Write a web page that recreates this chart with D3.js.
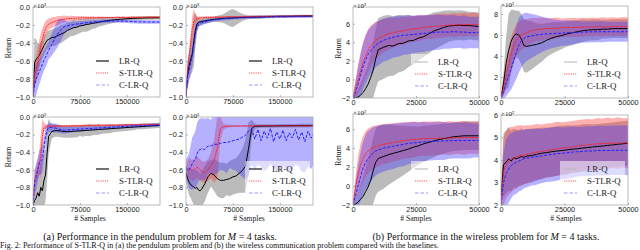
<html>
<head>
<meta charset="utf-8">
<title>S-TLR-Q returns</title>
<style>
  body { margin: 0; padding: 0; background: #fff; }
  svg { display: block; font-family: "Liberation Serif", "DejaVu Serif", serif; }
  .tick text { font-size: 7.3px; fill: #222; }
  .tick line { stroke: #888; stroke-width: 0.6; }
  .frame { fill: none; stroke: #aaa; stroke-width: 0.8; }
  .legend text { font-size: 8.8px; fill: #222; }
  .lbl { font-size: 7.6px; fill: #222; }
  .cap { font-size: 10px; fill: #111; }
  .note { font-size: 8px; fill: #111; }
</style>
</head>
<body>
<svg width="640" height="250"></svg>
<script src="https://d3js.org/d3.v7.min.js"></script>
<script>
// sample grids
var pendX = [
  0, 2500, 5000, 7500, 10000, 12500, 15000, 17500, 20000, 22500,
  25000, 30000, 35000, 40000, 45000, 50000, 55000, 60000, 65000, 70000,
  75000, 80000, 85000, 90000, 95000, 100000, 105000, 110000, 115000, 120000,
  125000, 130000, 135000, 140000, 145000, 150000, 155000, 160000, 165000, 170000,
  175000, 180000, 185000, 190000, 195000, 200000, 203000];
var wireX = [
  0, 1000, 2000, 3000, 4000, 5000, 6000, 7000, 8000, 9000,
  10000, 12000, 14000, 16000, 18000, 20000, 22000, 24000, 26000, 28000,
  30000, 32000, 34000, 36000, 38000, 40000, 42000, 44000, 46000, 48000,
  50000];

var pendXTicks = [0, 75000, 150000];
var wireXTicks = [0, 25000, 50000];
var pendYTicks = [0, -0.2, -0.4, -0.6, -0.8, -1.0];

var methods = ["LR-Q", "S-TLR-Q", "C-LR-Q"];

// pendulum, panel 1 (x10^3)
var pend1LR = [
  -1.00, -0.62, -0.58, -0.56, -0.54, -0.50, -0.47, -0.43, -0.40, -0.37,
  -0.36, -0.34, -0.335, -0.315, -0.30, -0.285, -0.26, -0.245, -0.23, -0.225,
  -0.21, -0.205, -0.195, -0.19, -0.182, -0.175, -0.168, -0.162, -0.156, -0.151,
  -0.147, -0.142, -0.139, -0.136, -0.133, -0.13, -0.128, -0.126, -0.125, -0.124,
  -0.123, -0.122, -0.121, -0.121, -0.12, -0.12, -0.12];
var pend1LRsd = [
  0.00, 0.28, 0.22, 0.16, 0.13, 0.11, 0.10, 0.11, 0.10, 0.10,
  0.10, 0.09, 0.10, 0.09, 0.10, 0.09, 0.09, 0.08, 0.09, 0.08,
  0.08, 0.07, 0.08, 0.07, 0.06, 0.06, 0.05, 0.05, 0.045, 0.04,
  0.035, 0.03, 0.03, 0.025, 0.025, 0.02, 0.02, 0.02, 0.02, 0.02,
  0.02, 0.02, 0.02, 0.02, 0.02, 0.02, 0.02];
var pend1ST = [
  -1.00, -0.74, -0.70, -0.62, -0.52, -0.43, -0.36, -0.29, -0.24, -0.21,
  -0.19, -0.175, -0.16, -0.15, -0.14, -0.135, -0.13, -0.128, -0.125, -0.124,
  -0.122, -0.121, -0.12, -0.12, -0.119, -0.119, -0.118, -0.118, -0.118, -0.117,
  -0.117, -0.117, -0.116, -0.116, -0.116, -0.116, -0.115, -0.115, -0.115, -0.115,
  -0.115, -0.114, -0.114, -0.114, -0.114, -0.114, -0.114];
var pend1STsd = [
  0.00, 0.12, 0.14, 0.15, 0.15, 0.14, 0.12, 0.10, 0.08, 0.07,
  0.06, 0.06, 0.05, 0.05, 0.04, 0.04, 0.03, 0.03, 0.025, 0.02,
  0.02, 0.02, 0.015, 0.015, 0.015, 0.012, 0.012, 0.012, 0.01, 0.01,
  0.01, 0.01, 0.01, 0.01, 0.01, 0.01, 0.01, 0.01, 0.01, 0.01,
  0.01, 0.01, 0.01, 0.01, 0.01, 0.01, 0.01];
var pend1CL = [
  -1.00, -0.86, -0.80, -0.76, -0.72, -0.68, -0.63, -0.59, -0.56, -0.52,
  -0.48, -0.42, -0.35, -0.29, -0.25, -0.22, -0.21, -0.20, -0.195, -0.19,
  -0.185, -0.18, -0.175, -0.17, -0.168, -0.165, -0.163, -0.16, -0.158, -0.157,
  -0.156, -0.155, -0.155, -0.156, -0.157, -0.158, -0.16, -0.162, -0.163, -0.165,
  -0.165, -0.166, -0.166, -0.167, -0.167, -0.167, -0.167];
var pend1CLsd = [
  0.00, 0.20, 0.18, 0.15, 0.14, 0.13, 0.12, 0.12, 0.11, 0.11,
  0.10, 0.12, 0.14, 0.15, 0.12, 0.08, 0.05, 0.04, 0.035, 0.03,
  0.03, 0.025, 0.025, 0.02, 0.02, 0.02, 0.02, 0.02, 0.02, 0.02,
  0.02, 0.02, 0.02, 0.02, 0.02, 0.02, 0.02, 0.02, 0.02, 0.02,
  0.02, 0.02, 0.02, 0.02, 0.02, 0.02, 0.02];

// pendulum, panel 2
var pend2LR = [
  -1.00, -0.74, -0.65, -0.58, -0.52, -0.38, -0.26, -0.19, -0.17, -0.165,
  -0.16, -0.155, -0.148, -0.142, -0.138, -0.133, -0.13, -0.127, -0.125, -0.123,
  -0.121, -0.12, -0.118, -0.116, -0.115, -0.114, -0.113, -0.112, -0.111, -0.11,
  -0.109, -0.108, -0.107, -0.106, -0.105, -0.105, -0.104, -0.104, -0.103, -0.103,
  -0.102, -0.102, -0.101, -0.101, -0.10, -0.10, -0.10];
var pend2LRsd = [
  0.00, 0.15, 0.15, 0.18, 0.20, 0.28, 0.20, 0.08, 0.05, 0.04,
  0.035, 0.03, 0.03, 0.03, 0.03, 0.035, 0.04, 0.05, 0.07, 0.09,
  0.10, 0.08, 0.06, 0.04, 0.03, 0.02, 0.02, 0.02, 0.02, 0.02,
  0.015, 0.015, 0.015, 0.015, 0.015, 0.015, 0.015, 0.015, 0.015, 0.015,
  0.015, 0.015, 0.015, 0.015, 0.015, 0.015, 0.015];
var pend2ST = [
  -1.00, -0.70, -0.55, -0.40, -0.25, -0.16, -0.14, -0.13, -0.125, -0.122,
  -0.12, -0.118, -0.116, -0.115, -0.114, -0.113, -0.112, -0.112, -0.111, -0.11,
  -0.11, -0.11, -0.109, -0.109, -0.108, -0.108, -0.107, -0.107, -0.106, -0.106,
  -0.105, -0.105, -0.104, -0.104, -0.104, -0.103, -0.103, -0.103, -0.102, -0.102,
  -0.102, -0.101, -0.101, -0.10, -0.10, -0.10, -0.10];
var pend2STsd = [
  0.00, 0.06, 0.08, 0.10, 0.15, 0.14, 0.05, 0.03, 0.02, 0.02,
  0.015, 0.015, 0.012, 0.012, 0.01, 0.01, 0.01, 0.01, 0.01, 0.01,
  0.01, 0.01, 0.01, 0.01, 0.01, 0.01, 0.01, 0.01, 0.01, 0.01,
  0.01, 0.01, 0.01, 0.01, 0.01, 0.01, 0.01, 0.01, 0.01, 0.01,
  0.01, 0.01, 0.01, 0.01, 0.01, 0.01, 0.01];
var pend2CL = [
  -1.00, -0.78, -0.70, -0.62, -0.55, -0.42, -0.30, -0.22, -0.19, -0.18,
  -0.175, -0.165, -0.155, -0.148, -0.142, -0.137, -0.133, -0.13, -0.127, -0.125,
  -0.123, -0.121, -0.12, -0.118, -0.117, -0.116, -0.115, -0.114, -0.113, -0.112,
  -0.111, -0.11, -0.11, -0.109, -0.108, -0.108, -0.107, -0.107, -0.106, -0.106,
  -0.105, -0.105, -0.105, -0.104, -0.104, -0.104, -0.104];
var pend2CLsd = [
  0.00, 0.12, 0.12, 0.12, 0.12, 0.12, 0.10, 0.06, 0.04, 0.03,
  0.03, 0.025, 0.025, 0.02, 0.02, 0.02, 0.02, 0.02, 0.02, 0.02,
  0.015, 0.015, 0.015, 0.015, 0.015, 0.015, 0.015, 0.015, 0.015, 0.015,
  0.015, 0.015, 0.015, 0.015, 0.015, 0.015, 0.015, 0.015, 0.015, 0.015,
  0.015, 0.015, 0.015, 0.015, 0.015, 0.015, 0.015];

// pendulum, panel 3
var pend3LR = [
  -1.00, -0.95, -0.92, -0.86, -0.90, -0.80, -0.84, -0.72, -0.66, -0.42,
  -0.22, -0.165, -0.155, -0.155, -0.16, -0.165, -0.167, -0.165, -0.162, -0.16,
  -0.157, -0.155, -0.152, -0.15, -0.147, -0.145, -0.142, -0.14, -0.137, -0.135,
  -0.132, -0.13, -0.127, -0.125, -0.122, -0.12, -0.117, -0.115, -0.112, -0.11,
  -0.108, -0.105, -0.103, -0.10, -0.098, -0.096, -0.095];
var pend3LRsd = [
  0.00, 0.15, 0.20, 0.25, 0.30, 0.30, 0.35, 0.30, 0.30, 0.30,
  0.20, 0.08, 0.07, 0.07, 0.07, 0.07, 0.07, 0.07, 0.07, 0.07,
  0.06, 0.07, 0.06, 0.07, 0.06, 0.06, 0.06, 0.05, 0.05, 0.05,
  0.05, 0.04, 0.04, 0.04, 0.04, 0.04, 0.035, 0.035, 0.03, 0.03,
  0.03, 0.03, 0.03, 0.03, 0.03, 0.03, 0.03];
var pend3ST = [
  -1.00, -0.72, -0.66, -0.60, -0.53, -0.45, -0.22, -0.12, -0.11, -0.108,
  -0.106, -0.105, -0.104, -0.104, -0.103, -0.103, -0.102, -0.102, -0.101, -0.10,
  -0.10, -0.099, -0.098, -0.097, -0.096, -0.096, -0.095, -0.094, -0.094, -0.093,
  -0.092, -0.092, -0.091, -0.09, -0.09, -0.089, -0.089, -0.088, -0.088, -0.087,
  -0.087, -0.086, -0.086, -0.085, -0.085, -0.085, -0.085];
var pend3STsd = [
  0.00, 0.10, 0.10, 0.10, 0.12, 0.25, 0.20, 0.05, 0.03, 0.02,
  0.02, 0.015, 0.015, 0.012, 0.012, 0.012, 0.012, 0.012, 0.012, 0.012,
  0.012, 0.012, 0.012, 0.012, 0.012, 0.012, 0.012, 0.012, 0.012, 0.012,
  0.012, 0.012, 0.012, 0.012, 0.012, 0.012, 0.012, 0.012, 0.012, 0.012,
  0.012, 0.012, 0.012, 0.012, 0.012, 0.012, 0.012];
var pend3CL = [
  -1.00, -0.75, -0.68, -0.60, -0.52, -0.50, -0.48, -0.35, -0.22, -0.15,
  -0.12, -0.12, -0.125, -0.135, -0.145, -0.15, -0.148, -0.145, -0.142, -0.14,
  -0.138, -0.135, -0.132, -0.13, -0.13, -0.127, -0.125, -0.122, -0.12, -0.118,
  -0.116, -0.114, -0.112, -0.11, -0.108, -0.106, -0.104, -0.102, -0.10, -0.099,
  -0.098, -0.096, -0.095, -0.094, -0.093, -0.092, -0.092];
var pend3CLsd = [
  0.00, 0.15, 0.15, 0.14, 0.14, 0.15, 0.15, 0.12, 0.10, 0.06,
  0.05, 0.05, 0.05, 0.045, 0.04, 0.04, 0.035, 0.035, 0.03, 0.03,
  0.03, 0.03, 0.025, 0.025, 0.025, 0.025, 0.02, 0.02, 0.02, 0.02,
  0.02, 0.02, 0.02, 0.02, 0.02, 0.02, 0.02, 0.02, 0.02, 0.02,
  0.02, 0.02, 0.02, 0.02, 0.02, 0.02, 0.02];

// pendulum, panel 4
var pend4LR = [
  -0.64, -0.70, -0.74, -0.77, -0.78, -0.80, -0.81, -0.80, -0.83, -0.84,
  -0.82, -0.76, -0.68, -0.64, -0.66, -0.70, -0.72, -0.72, -0.71, -0.70,
  -0.68, -0.67, -0.64, -0.61, -0.56, -0.36, -0.13, -0.105, -0.104, -0.103,
  -0.103, -0.102, -0.102, -0.101, -0.101, -0.10, -0.10, -0.10, -0.099, -0.099,
  -0.099, -0.098, -0.098, -0.098, -0.098, -0.097, -0.097];
var pend4LRsd = [
  0.10, 0.12, 0.15, 0.15, 0.18, 0.20, 0.20, 0.20, 0.20, 0.20,
  0.20, 0.20, 0.18, 0.15, 0.18, 0.20, 0.20, 0.20, 0.18, 0.20,
  0.20, 0.20, 0.22, 0.25, 0.30, 0.30, 0.10, 0.03, 0.02, 0.02,
  0.02, 0.02, 0.02, 0.02, 0.02, 0.02, 0.02, 0.02, 0.02, 0.02,
  0.02, 0.02, 0.02, 0.02, 0.02, 0.02, 0.02];
var pend4ST = [
  -0.62, -0.60, -0.58, -0.60, -0.61, -0.60, -0.59, -0.57, -0.58, -0.60,
  -0.62, -0.63, -0.60, -0.55, -0.50, -0.35, -0.13, -0.11, -0.105, -0.104,
  -0.103, -0.103, -0.102, -0.102, -0.102, -0.101, -0.101, -0.101, -0.10, -0.10,
  -0.10, -0.10, -0.10, -0.10, -0.10, -0.10, -0.10, -0.10, -0.10, -0.10,
  -0.10, -0.10, -0.10, -0.10, -0.10, -0.10, -0.10];
var pend4STsd = [
  0.05, 0.10, 0.12, 0.12, 0.12, 0.12, 0.12, 0.12, 0.12, 0.12,
  0.12, 0.12, 0.12, 0.15, 0.25, 0.35, 0.13, 0.03, 0.02, 0.015,
  0.01, 0.01, 0.01, 0.01, 0.01, 0.01, 0.01, 0.01, 0.01, 0.01,
  0.01, 0.01, 0.01, 0.01, 0.01, 0.01, 0.01, 0.01, 0.01, 0.01,
  0.01, 0.01, 0.01, 0.01, 0.01, 0.01, 0.01];
var pend4CL = [
  -0.58, -0.60, -0.61, -0.57, -0.53, -0.50, -0.48, -0.42, -0.38, -0.37,
  -0.36, -0.37, -0.33, -0.33, -0.31, -0.31, -0.30, -0.29, -0.29, -0.28,
  -0.27, -0.26, -0.25, -0.23, -0.21, -0.16, -0.14, -0.25, -0.14, -0.27,
  -0.16, -0.24, -0.13, -0.28, -0.17, -0.25, -0.15, -0.27, -0.18, -0.24,
  -0.14, -0.26, -0.17, -0.28, -0.16, -0.24, -0.20];
var pend4CLsd = [
  0.10, 0.15, 0.20, 0.25, 0.30, 0.30, 0.32, 0.35, 0.35, 0.35,
  0.35, 0.35, 0.32, 0.30, 0.35, 0.33, 0.30, 0.32, 0.35, 0.30,
  0.33, 0.35, 0.40, 0.45, 0.50, 0.50, 0.40, 0.35, 0.40, 0.30,
  0.45, 0.35, 0.40, 0.30, 0.45, 0.35, 0.40, 0.32, 0.45, 0.35,
  0.40, 0.30, 0.45, 0.35, 0.40, 0.35, 0.35];

// wireless, panel 1 (x10^2)
var wire1LR = [
  -2.0, -2.0, -1.9, -1.7, -1.4, -1.0, -0.5, 0.2, 1.0, 2.2,
  3.2, 3.45, 3.65, 3.6, 3.85, 3.9, 4.15, 4.2, 4.45, 4.6,
  4.9, 5.2, 5.4, 5.6, 5.75, 5.8, 5.85, 5.8, 5.8, 5.75,
  5.7];
var wire1LRsd = [
  0.2, 0.5, 0.8, 1.2, 1.5, 1.8, 2.2, 2.6, 3.0, 3.2,
  3.4, 3.4, 3.3, 3.2, 3.1, 3.0, 2.8, 2.6, 2.4, 2.2,
  2.1, 2.0, 1.9, 1.8, 1.7, 1.6, 1.6, 1.6, 1.5, 1.5,
  1.5];
var wire1ST = [
  -2.0, -1.0, 0.0, 0.9, 1.8, 2.5, 3.1, 3.6, 3.9, 4.2,
  4.4, 4.7, 4.9, 5.05, 5.15, 5.25, 5.35, 5.45, 5.5, 5.6,
  5.65, 5.7, 5.75, 5.8, 5.85, 5.85, 5.9, 5.9, 5.9, 5.9,
  5.9];
var wire1STsd = [
  0.3, 1.0, 1.5, 2.0, 2.2, 2.3, 2.3, 2.2, 2.1, 2.0,
  1.9, 1.8, 1.7, 1.6, 1.5, 1.5, 1.4, 1.4, 1.4, 1.3,
  1.3, 1.3, 1.3, 1.3, 1.2, 1.3, 1.2, 1.3, 1.2, 1.3,
  1.2];
var wire1CL = [
  -2.0, -1.4, -0.5, 0.5, 1.4, 2.1, 2.7, 3.1, 3.4, 3.7,
  3.9, 4.2, 4.4, 4.55, 4.65, 4.75, 4.8, 4.85, 4.9, 4.95,
  5.0, 5.05, 5.1, 5.1, 5.1, 5.15, 5.1, 5.1, 5.05, 5.05,
  5.05];
var wire1CLsd = [
  0.3, 1.2, 1.8, 2.2, 2.5, 2.6, 2.6, 2.5, 2.5, 2.4,
  2.4, 2.3, 2.3, 2.2, 2.2, 2.1, 2.1, 2.0, 2.0, 2.0,
  1.9, 1.9, 1.9, 1.8, 1.8, 1.8, 1.7, 1.8, 1.7, 1.7,
  1.7];

// wireless, panel 2
var wire2LR = [
  0.0, 1.4, 3.3, 4.5, 5.4, 5.9, 6.1, 6.0, 5.6, 5.0,
  4.9, 5.0, 5.1, 5.25, 5.5, 5.7, 5.85, 5.95, 6.1, 6.2,
  6.3, 6.4, 6.45, 6.5, 6.5, 6.55, 6.55, 6.6, 6.6, 6.6,
  6.6];
var wire2LRsd = [
  0.2, 1.0, 2.5, 3.5, 3.0, 2.5, 2.2, 2.3, 2.4, 2.5,
  2.5, 2.3, 2.0, 1.8, 1.6, 1.5, 1.4, 1.3, 1.2, 1.2,
  1.1, 1.1, 1.0, 1.0, 1.0, 0.9, 0.9, 0.9, 0.9, 0.9,
  0.9];
var wire2ST = [
  0.0, 1.0, 2.1, 3.2, 4.2, 4.9, 5.5, 5.8, 6.0, 6.1,
  6.2, 6.4, 6.5, 6.55, 6.6, 6.62, 6.65, 6.67, 6.7, 6.7,
  6.72, 6.73, 6.75, 6.75, 6.76, 6.77, 6.78, 6.78, 6.79, 6.8,
  6.8];
var wire2STsd = [
  0.2, 0.8, 1.2, 1.5, 1.6, 1.6, 1.5, 1.5, 1.4, 1.4,
  1.3, 1.2, 1.1, 1.1, 1.0, 1.0, 1.0, 0.9, 0.9, 0.9,
  0.9, 0.9, 0.85, 0.9, 0.85, 0.9, 0.85, 0.9, 0.85, 0.9,
  0.85];
var wire2CL = [
  0.0, 0.6, 1.4, 2.1, 2.8, 3.6, 4.3, 5.0, 5.4, 5.65,
  5.8, 5.9, 6.0, 6.05, 6.1, 6.12, 6.15, 6.17, 6.2, 6.22,
  6.25, 6.27, 6.28, 6.3, 6.3, 6.3, 6.3, 6.3, 6.3, 6.3,
  6.3];
var wire2CLsd = [
  0.2, 0.8, 1.2, 1.6, 2.0, 2.3, 2.5, 2.6, 2.5, 2.4,
  2.3, 2.1, 1.9, 1.7, 1.5, 1.4, 1.3, 1.2, 1.2, 1.1,
  1.1, 1.0, 1.0, 1.0, 1.0, 1.0, 0.95, 0.95, 0.95, 0.95,
  0.95];

// wireless, panel 3
var wire3LR = [
  -2.0, -1.9, -1.7, -1.4, -1.1, -0.6, -0.1, 0.6, 1.6, 2.5,
  2.9, 3.1, 3.3, 3.45, 3.6, 3.75, 3.9, 4.1, 4.25, 4.45,
  4.6, 4.75, 4.9, 5.0, 5.1, 5.2, 5.25, 5.3, 5.3, 5.3,
  5.3];
var wire3LRsd = [
  0.2, 0.5, 1.0, 1.5, 2.0, 2.5, 3.0, 3.3, 3.5, 3.5,
  3.5, 3.4, 3.2, 3.0, 2.8, 2.6, 2.4, 2.2, 2.0, 1.9,
  1.8, 1.7, 1.6, 1.6, 1.5, 1.5, 1.5, 1.5, 1.5, 1.5,
  1.5];
var wire3ST = [
  -1.8, -0.2, 1.2, 2.2, 2.9, 3.4, 3.7, 3.9, 4.05, 4.15,
  4.25, 4.4, 4.5, 4.6, 4.7, 4.8, 4.85, 4.9, 4.95, 5.0,
  5.0, 5.02, 5.05, 5.05, 5.07, 5.08, 5.1, 5.1, 5.1, 5.1,
  5.1];
var wire3STsd = [
  0.3, 1.2, 2.0, 2.3, 2.4, 2.4, 2.4, 2.3, 2.3, 2.2,
  2.2, 2.1, 2.1, 2.0, 2.0, 1.9, 1.9, 1.9, 1.8, 1.8,
  1.8, 1.8, 1.8, 1.7, 1.8, 1.7, 1.7, 1.8, 1.7, 1.7,
  1.7];
var wire3CL = [
  -2.0, -1.0, 0.0, 1.0, 1.9, 2.5, 2.9, 3.2, 3.5, 3.7,
  3.8, 4.0, 4.1, 4.2, 4.3, 4.4, 4.5, 4.55, 4.6, 4.65,
  4.7, 4.72, 4.74, 4.76, 4.78, 4.8, 4.8, 4.8, 4.8, 4.8,
  4.8];
var wire3CLsd = [
  0.3, 1.4, 2.2, 2.6, 2.8, 2.9, 2.9, 2.8, 2.7, 2.6,
  2.5, 2.5, 2.4, 2.4, 2.3, 2.3, 2.2, 2.2, 2.1, 2.1,
  2.0, 2.0, 2.0, 2.0, 1.9, 1.9, 1.9, 1.9, 1.9, 1.8,
  1.8];

// wireless, panel 4
var wire4LR = [
  2.4, 3.8, 3.9, 4.05, 3.95, 4.1, 4.05, 4.1, 4.15, 4.12,
  4.17, 4.2, 4.25, 4.3, 4.33, 4.37, 4.4, 4.42, 4.45, 4.48,
  4.5, 4.53, 4.55, 4.58, 4.6, 4.62, 4.65, 4.67, 4.7, 4.72,
  4.75];
var wire4LRsd = [
  0.3, 1.4, 1.4, 1.4, 1.35, 1.3, 1.3, 1.25, 1.25, 1.2,
  1.2, 1.2, 1.15, 1.15, 1.1, 1.1, 1.1, 1.1, 1.1, 1.05,
  1.05, 1.05, 1.05, 1.0, 1.0, 1.0, 1.0, 1.0, 1.0, 1.0,
  1.0];
var wire4ST = [
  2.1, 3.5, 3.8, 3.95, 4.02, 4.08, 4.13, 4.18, 4.2, 4.22,
  4.25, 4.3, 4.35, 4.38, 4.42, 4.45, 4.5, 4.53, 4.55, 4.58,
  4.62, 4.65, 4.67, 4.7, 4.72, 4.73, 4.74, 4.75, 4.75, 4.76,
  4.76];
var wire4STsd = [
  0.3, 1.5, 1.5, 1.5, 1.45, 1.4, 1.4, 1.35, 1.35, 1.3,
  1.3, 1.25, 1.25, 1.2, 1.2, 1.2, 1.2, 1.15, 1.15, 1.15,
  1.15, 1.15, 1.15, 1.1, 1.15, 1.1, 1.15, 1.1, 1.15, 1.1,
  1.1];
var wire4CL = [
  2.0, 3.0, 3.4, 3.6, 3.75, 3.85, 3.9, 3.95, 4.0, 4.05,
  4.08, 4.12, 4.15, 4.18, 4.22, 4.25, 4.28, 4.3, 4.32, 4.35,
  4.37, 4.38, 4.4, 4.4, 4.42, 4.42, 4.42, 4.43, 4.43, 4.43,
  4.43];
var wire4CLsd = [
  0.3, 1.3, 1.5, 1.5, 1.45, 1.4, 1.4, 1.35, 1.35, 1.3,
  1.3, 1.25, 1.25, 1.2, 1.2, 1.2, 1.2, 1.15, 1.15, 1.15,
  1.1, 1.1, 1.1, 1.1, 1.1, 1.1, 1.1, 1.1, 1.1, 1.1,
  1.1];

var lineColor = { "LR-Q": "#000000", "S-TLR-Q": "#ff1a1a", "C-LR-Q": "#2020ff" };
var bandColor = { "LR-Q": "rgba(120,120,120,0.5)", "S-TLR-Q": "rgba(255,50,50,0.38)", "C-LR-Q": "rgba(70,60,255,0.4)" };
var lineDash = { "LR-Q": null, "S-TLR-Q": "1.6,0.8", "C-LR-Q": "3,1.5" };

var pendFmt = function(d) { return d === 0 ? "0.0" : "\u2212" + Math.abs(d).toFixed(1); };
var wireFmt = function(d) { return d < 0 ? "\u2212" + Math.abs(d) : "" + d; };

var panels = [
  { left: 33, right: 160, top: 7, bottom: 97, xs: pendX, xMax: 203000, xTicks: pendXTicks,
    yDomain: [-1, 0], yTicks: pendYTicks, fmt: pendFmt, exp: "\u00d710\u00b3", ylab: true, xlab: null, lrLegend: "#000",
    data: [[pend1LR, pend1LRsd], [pend1ST, pend1STsd], [pend1CL, pend1CLsd]] },
  { left: 186, right: 313, top: 7, bottom: 97, xs: pendX, xMax: 203000, xTicks: pendXTicks,
    yDomain: [-1, 0], yTicks: pendYTicks, fmt: pendFmt, exp: "\u00d710\u00b3", ylab: false, xlab: null, lrLegend: "#000",
    data: [[pend2LR, pend2LRsd], [pend2ST, pend2STsd], [pend2CL, pend2CLsd]] },
  { left: 33, right: 160, top: 117, bottom: 205, xs: pendX, xMax: 203000, xTicks: pendXTicks,
    yDomain: [-1, 0], yTicks: pendYTicks, fmt: pendFmt, exp: "\u00d710\u00b3", ylab: true, xlab: 90, lrLegend: "#000",
    data: [[pend3LR, pend3LRsd], [pend3ST, pend3STsd], [pend3CL, pend3CLsd]] },
  { left: 186, right: 313, top: 117, bottom: 205, xs: pendX, xMax: 203000, xTicks: pendXTicks,
    yDomain: [-1, 0], yTicks: pendYTicks, fmt: pendFmt, exp: "\u00d710\u00b3", ylab: false, xlab: 249, lrLegend: "#000",
    data: [[pend4LR, pend4LRsd], [pend4ST, pend4STsd], [pend4CL, pend4CLsd]] },
  { left: 353, right: 479, top: 7, bottom: 98, xs: wireX, xMax: 50000, xTicks: wireXTicks,
    yDomain: [-2, 7.8], yTicks: [-2, 0, 2, 4, 6], fmt: wireFmt, exp: "\u00d710\u00b2", ylab: true, xlab: null, lrLegend: "#bbb",
    data: [[wire1LR, wire1LRsd], [wire1ST, wire1STsd], [wire1CL, wire1CLsd]] },
  { left: 501, right: 628, top: 6, bottom: 98, xs: wireX, xMax: 50000, xTicks: wireXTicks,
    yDomain: [0, 8.75], yTicks: [0, 2, 4, 6, 8], fmt: wireFmt, exp: "\u00d710\u00b2", ylab: false, xlab: null, lrLegend: "#bbb",
    data: [[wire2LR, wire2LRsd], [wire2ST, wire2STsd], [wire2CL, wire2CLsd]] },
  { left: 353, right: 479, top: 114, bottom: 205, xs: wireX, xMax: 50000, xTicks: wireXTicks,
    yDomain: [-2, 7.6], yTicks: [-2, 0, 2, 4, 6], fmt: wireFmt, exp: "\u00d710\u00b2", ylab: true, xlab: 416, lrLegend: "#bbb",
    data: [[wire3LR, wire3LRsd], [wire3ST, wire3STsd], [wire3CL, wire3CLsd]] },
  { left: 501, right: 628, top: 115, bottom: 205, xs: wireX, xMax: 50000, xTicks: wireXTicks,
    yDomain: [2, 6], yTicks: [2, 3, 4, 5, 6], fmt: wireFmt, exp: "\u00d710\u00b2", ylab: false, xlab: 566, lrLegend: "#bbb",
    data: [[wire4LR, wire4LRsd], [wire4ST, wire4STsd], [wire4CL, wire4CLsd]] }
];

var svg = d3.select("svg");
var defs = svg.append("defs");

panels.forEach(function(p, k) {
  var x = d3.scaleLinear().domain([0, p.xMax]).range([p.left, p.right]);
  var y = d3.scaleLinear().domain(p.yDomain).range([p.bottom, p.top]);
  var g = svg.append("g");

  defs.append("clipPath").attr("id", "clip" + k)
    .append("rect")
    .attr("x", p.left).attr("y", p.top)
    .attr("width", p.right - p.left).attr("height", p.bottom - p.top);

  var plot = g.append("g").attr("clip-path", "url(#clip" + k + ")");

  var rows = methods.map(function(m, j) {
    return p.xs.map(function(xv, i) {
      return { x: xv, m: p.data[j][0][i], s: p.data[j][1][i] };
    });
  });

  // bands first, then the mean lines on top
  rows.forEach(function(pts, j) {
    plot.append("path")
      .datum(pts)
      .attr("fill", bandColor[methods[j]])
      .attr("d", d3.area()
        .x(function(d) { return x(d.x); })
        .y0(function(d) { return y(d.m - d.s); })
        .y1(function(d) { return y(d.m + d.s); }));
  });
  rows.forEach(function(pts, j) {
    plot.append("path")
      .datum(pts)
      .attr("fill", "none")
      .attr("stroke", lineColor[methods[j]])
      .attr("stroke-width", 1)
      .attr("stroke-dasharray", lineDash[methods[j]])
      .attr("d", d3.line()
        .x(function(d) { return x(d.x); })
        .y(function(d) { return y(d.m); }));
  });

  g.append("rect").attr("class", "frame")
    .attr("x", p.left).attr("y", p.top)
    .attr("width", p.right - p.left).attr("height", p.bottom - p.top);

  g.append("g")
    .attr("transform", "translate(" + p.left + ",0)")
    .call(d3.axisLeft(y).tickValues(p.yTicks).tickFormat(p.fmt).tickSizeInner(-2).tickSizeOuter(0).tickPadding(3))
    .call(function(a) { a.select(".domain").remove(); });

  g.append("g")
    .attr("transform", "translate(0," + p.bottom + ")")
    .call(d3.axisBottom(x).tickValues(p.xTicks).tickFormat(d3.format("d")).tickSizeInner(-2).tickSizeOuter(0).tickPadding(1.5))
    .call(function(a) { a.select(".domain").remove(); });

  g.append("text").attr("class", "lbl")
    .attr("x", p.left).attr("y", p.top + 0.5)
    .style("font-size", "7px")
    .text(p.exp);

  if (p.ylab) {
    var yl = p.left < 200 ? 11 : 341;
    g.append("text").attr("class", "lbl")
      .attr("transform", "translate(" + yl + "," + ((p.top + p.bottom) / 2 - 4) + ") rotate(-90)")
      .attr("text-anchor", "middle")
      .text("Return");
  }
  if (p.xlab !== null) {
    g.append("text").attr("class", "lbl")
      .attr("x", p.xlab).attr("y", 221)
      .attr("text-anchor", "middle")
      .text("# Samples");
  }

  // legend
  var lg = g.append("g").attr("class", "legend");
  lg.append("rect")
    .attr("x", p.right - 68).attr("y", p.bottom - 44)
    .attr("width", 65).attr("height", 39)
    .attr("fill", "#fff").attr("opacity", 0.55);
  var legendStroke = [p.lrLegend, "#ff5555", "#9a9aff"];
  var legendDash = [null, "1.2,1", "3.5,2"];
  methods.forEach(function(m, j) {
    var ly = p.bottom - 36 + 12 * j;
    lg.append("line")
      .attr("x1", p.right - 64).attr("x2", p.right - 51)
      .attr("y1", ly).attr("y2", ly)
      .attr("stroke", legendStroke[j])
      .attr("stroke-width", 1.1)
      .attr("stroke-dasharray", legendDash[j]);
    lg.append("text")
      .attr("x", p.right - 41).attr("y", ly)
      .attr("dy", "0.33em")
      .text(m);
  });
});

svg.append("text").attr("class", "cap")
  .attr("x", 160).attr("y", 240).attr("text-anchor", "middle")
  .html("(a) Performance in the pendulum problem for <tspan font-style='italic'>M</tspan> = 4 tasks.");
svg.append("text").attr("class", "cap")
  .attr("x", 486).attr("y", 240).attr("text-anchor", "middle")
  .html("(b) Performance in the wireless problem for <tspan font-style='italic'>M</tspan> = 4 tasks.");
svg.append("text").attr("class", "note")
  .attr("x", 0).attr("y", 248)
  .text("Fig. 2: Performance of S-TLR-Q in (a) the pendulum problem and (b) the wireless communication problem compared with the baselines.");
</script>
</body>
</html>
